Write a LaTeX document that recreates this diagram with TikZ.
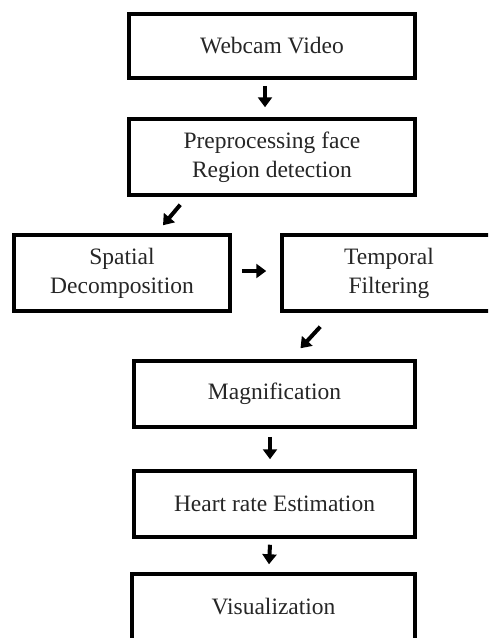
\documentclass[tikz,border=0pt]{standalone}
\usepackage{fontspec}
\setmainfont{Liberation Serif}
\usetikzlibrary{arrows.meta,calc}
\begin{document}
\begin{tikzpicture}[x=1pt,y=-1pt,
  box/.style={draw=black, line width=3.5pt, rectangle, inner sep=0pt, align=center,
    font=\fontsize{23.5}{29}\selectfont, text=black!85},
  arr/.style={line width=4pt, -{Triangle[length=10pt,width=14pt]}}]
\useasboundingbox (0,0) rectangle (488,638);
\clip (0,0) rectangle (488,638);
\fill[white] (0,0) rectangle (488,638);
\node[box, minimum width=286pt, minimum height=64pt] (b1) at (272,46) {Webcam Video};
\node[box, minimum width=286pt, minimum height=76pt] (b2) at (272,157) {Preprocessing face\\Region detection};
\node[box, minimum width=216pt, minimum height=76pt] (b3) at (122,273) {Spatial\\Decomposition};
\node[box, minimum width=214pt, minimum height=76pt] (b4) at (389,273) {Temporal\\Filtering};
\node[box, minimum width=281pt, minimum height=66pt] (b5) at (274.5,394) {Magnification};
\node[box, minimum width=281pt, minimum height=66pt] (b6) at (274.5,504) {Heart rate Estimation};
\node[box, minimum width=283pt, minimum height=66pt] (b7) at (273.5,607) {Visualization};
\draw[arr] ($(b1.south)+(-7,6)$) -- ($(b2.north)+(-7,-10)$);
\draw[arr] ($(b2.south west)+(53,8)$) -- ($(b3.north)+(41,-8)$);
\draw[arr] ($(b3.east)+(10,-2)$) -- ($(b4.west)+(-14,-2)$);
\draw[arr] ($(b4.south west)+(40,14)$) -- ($(b5.north)+(26,-11)$);
\draw[arr] ($(b5.south)+(-4.5,8)$) -- ($(b6.north)+(-4.5,-10)$);
\draw[arr] ($(b6.south)+(-4.5,6)$) -- ($(b7.north)+(-4.5,-8)$);
\end{tikzpicture}
\end{document}
